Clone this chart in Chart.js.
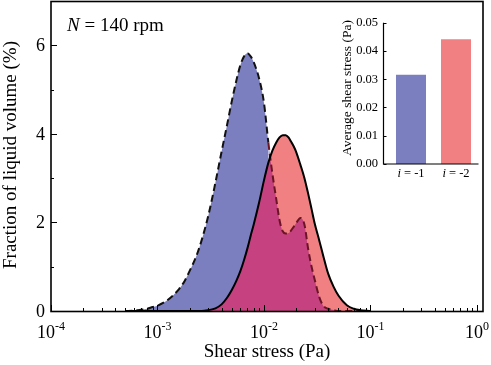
<!DOCTYPE html>
<html>
<head>
<meta charset="utf-8">
<script src="https://cdn.jsdelivr.net/npm/chart.js@4.4.0/dist/chart.umd.min.js"></script>
<style>
  body { margin: 0; background: #fff; }
  #wrap { position: relative; width: 491px; height: 365px; }
  #main { position: absolute; left: 0; top: 0; }
  #inset { position: absolute; left: 320px; top: 0; }
</style>
</head>
<body>
<div id="wrap">
  <canvas id="main" width="491" height="365"></canvas>
  <canvas id="inset" width="171" height="190"></canvas>
</div>
<script>
// shear stress (Pa) sampled along the curves
const shearStress = [0.0005, 0.0006, 0.0007, 0.0008, 0.0009, 0.001, 0.0012, 0.0014, 0.0016, 0.0018,
  0.002, 0.0023, 0.0026, 0.003, 0.0035, 0.004, 0.0045, 0.005, 0.0055, 0.006,
  0.0065, 0.007, 0.0075, 0.008, 0.009, 0.010, 0.011, 0.012, 0.013, 0.014,
  0.015, 0.016, 0.017, 0.018, 0.019, 0.020, 0.022, 0.024, 0.026, 0.028,
  0.030, 0.033, 0.036, 0.040, 0.045, 0.050, 0.060, 0.070, 0.080, 0.100];
// fraction of liquid volume (%), i = -1 (blue, dashed)
const fracI1 = [0.0, 0.01, 0.03, 0.05, 0.09, 0.12, 0.22, 0.35, 0.50, 0.68,
  0.90, 1.22, 1.60, 2.15, 2.90, 3.60, 4.20, 4.75, 5.20, 5.55,
  5.75, 5.82, 5.75, 5.62, 5.25, 4.70, 3.80, 3.10, 2.55, 2.05,
  1.80, 1.75, 1.76, 1.82, 1.90, 1.98, 2.10, 1.95, 1.40, 1.00,
  0.70, 0.32, 0.12, 0.05, 0.02, 0.0, 0.0, 0.0, 0.0, 0.0];
// fraction of liquid volume (%), i = -2 (red, solid)
const fracI2 = [0.0, 0.0, 0.0, 0.0, 0.0, 0.0, 0.0, 0.0, 0.0, 0.0,
  0.0, 0.0, 0.0, 0.02, 0.06, 0.15, 0.30, 0.48, 0.68, 0.90,
  1.15, 1.42, 1.70, 1.95, 2.45, 2.95, 3.35, 3.62, 3.80, 3.92,
  3.97, 3.97, 3.92, 3.82, 3.72, 3.60, 3.30, 3.00, 2.65, 2.30,
  1.97, 1.60, 1.25, 0.85, 0.55, 0.35, 0.13, 0.05, 0.02, 0.0];

const xDecades = [1e-4, 1e-3, 1e-2, 1e-1, 1];
const xExponents = ['-4', '-3', '-2', '-1', '0'];
const yMajor = [0, 2, 4, 6];
const yMinor = [1, 3, 5];

const insetCats = ['-1', '-2'];
const avgShear = [0.0316, 0.0441];
const insetTicks = [0, 0.01, 0.02, 0.03, 0.04, 0.05];

const BLUE = '#7b7fc0';
const SALMON = '#f08081';
const MAGENTA = '#c6417f';
const SERIF = '"Liberation Serif", "Times New Roman", serif';

const pts = arr => shearStress.map((x, i) => ({x, y: arr[i]}));

const mainDecor = {
  id: 'mainDecor',
  afterDraw(chart) {
    const {ctx, chartArea: a, scales: {x, y}} = chart;
    ctx.save();
    ctx.strokeStyle = '#000';
    ctx.fillStyle = '#000';
    ctx.lineWidth = 1;
    ctx.beginPath();
    // x ticks, inward
    xDecades.forEach((d, i) => {
      const px = Math.round(x.getPixelForValue(d)) + 0.5;
      ctx.moveTo(px, a.bottom); ctx.lineTo(px, a.bottom - 6);
      if (i < xDecades.length - 1) {
        for (let m = 2; m <= 9; m++) {
          const q = Math.round(x.getPixelForValue(m * d)) + 0.5;
          ctx.moveTo(q, a.bottom); ctx.lineTo(q, a.bottom - 3);
        }
      }
    });
    yMajor.forEach(v => {
      const py = Math.round(y.getPixelForValue(v)) + 0.5;
      ctx.moveTo(a.left, py); ctx.lineTo(a.left + 6, py);
    });
    yMinor.forEach(v => {
      const py = Math.round(y.getPixelForValue(v)) + 0.5;
      ctx.moveTo(a.left, py); ctx.lineTo(a.left + 3, py);
    });
    ctx.stroke();

    ctx.lineWidth = 1.6;
    ctx.strokeRect(a.left, a.top + 0.5, a.right - a.left, a.bottom - a.top);

    // y labels
    ctx.font = '18px ' + SERIF;
    ctx.textAlign = 'right';
    ctx.textBaseline = 'middle';
    yMajor.forEach(v => ctx.fillText(String(v), a.left - 6, y.getPixelForValue(v) + 1));

    // x labels 10^n
    ctx.textAlign = 'left';
    ctx.textBaseline = 'alphabetic';
    xDecades.forEach((d, i) => {
      const px = x.getPixelForValue(d);
      ctx.font = '18px ' + SERIF;
      const wb = ctx.measureText('10').width;
      ctx.font = '12px ' + SERIF;
      const we = ctx.measureText(xExponents[i]).width;
      const left = px - (wb + we) / 2;
      ctx.font = '18px ' + SERIF;
      ctx.fillText('10', left, 338);
      ctx.font = '12px ' + SERIF;
      ctx.fillText(xExponents[i], left + wb, 330);
    });

    // axis titles
    ctx.font = '19px ' + SERIF;
    ctx.textAlign = 'center';
    ctx.fillText('Shear stress (Pa)', (a.left + a.right) / 2, 357);
    ctx.save();
    ctx.translate(16, 155);
    ctx.rotate(-Math.PI / 2);
    ctx.fillText('Fraction of liquid volume (%)', 0, 0);
    ctx.restore();

    // N = 140 rpm
    ctx.textAlign = 'left';
    ctx.font = 'italic 19px ' + SERIF;
    ctx.fillText('N', 67, 31);
    const wn = ctx.measureText('N').width;
    ctx.font = '19px ' + SERIF;
    ctx.fillText(' = 140 rpm', 67 + wn, 31);
    ctx.restore();
  }
};

new Chart(document.getElementById('main'), {
  type: 'line',
  data: {
    datasets: [
      {
        label: 'i = -1',
        data: pts(fracI1),
        order: 1,
        borderColor: '#111',
        borderWidth: 2,
        borderDash: [7, 4],
        segment: {
          borderColor: c => (fracI2[c.p0DataIndex] + fracI2[c.p1DataIndex] >
            fracI1[c.p0DataIndex] + fracI1[c.p1DataIndex]) ? '#6a1424' : '#111'
        },
        fill: {target: 1, above: BLUE, below: SALMON},
        pointRadius: 0,
        cubicInterpolationMode: 'monotone'
      },
      {
        label: 'overlap',
        data: pts(fracI2),
        order: 2,
        borderWidth: 0,
        borderColor: 'rgba(0,0,0,0)',
        backgroundColor: MAGENTA,
        fill: 'origin',
        pointRadius: 0,
        cubicInterpolationMode: 'monotone'
      },
      {
        label: 'i = -2',
        data: pts(fracI2),
        order: 0,
        borderColor: '#000',
        borderWidth: 2,
        fill: false,
        pointRadius: 0,
        cubicInterpolationMode: 'monotone'
      }
    ]
  },
  options: {
    responsive: false,
    animation: false,
    layout: {padding: {left: 51, top: 1, right: 8, bottom: 54}},
    plugins: {legend: {display: false}, tooltip: {enabled: false}},
    scales: {
      x: {type: 'logarithmic', min: 1e-4, max: 1.14, display: false},
      y: {type: 'linear', min: 0, max: 7, display: false}
    }
  },
  plugins: [mainDecor]
});

const insetDecor = {
  id: 'insetDecor',
  afterDraw(chart) {
    const {ctx, chartArea: a, scales: {x, y}} = chart;
    const ax = 63.5;
    ctx.save();
    ctx.strokeStyle = '#000';
    ctx.fillStyle = '#000';
    ctx.lineWidth = 1.2;
    ctx.beginPath();
    ctx.moveTo(ax, y.getPixelForValue(0.05));
    ctx.lineTo(ax, a.bottom);
    ctx.lineTo(a.right, a.bottom);
    insetTicks.forEach(v => {
      const py = Math.round(y.getPixelForValue(v)) + 0.5;
      ctx.moveTo(ax, py); ctx.lineTo(ax + 3, py);
    });
    ctx.stroke();

    ctx.font = '12.5px ' + SERIF;
    ctx.textAlign = 'right';
    ctx.textBaseline = 'middle';
    insetTicks.forEach(v => ctx.fillText(v.toFixed(2), 58, y.getPixelForValue(v)));

    ctx.textAlign = 'left';
    ctx.textBaseline = 'alphabetic';
    insetCats.forEach((c, i) => {
      const px = x.getPixelForValue(i);
      ctx.font = 'italic 12.5px ' + SERIF;
      const wi = ctx.measureText('i').width;
      ctx.font = '12.5px ' + SERIF;
      const wr = ctx.measureText(' = ' + c).width;
      const left = px - (wi + wr) / 2;
      ctx.font = 'italic 12.5px ' + SERIF;
      ctx.fillText('i', left, 177);
      ctx.font = '12.5px ' + SERIF;
      ctx.fillText(' = ' + c, left + wi, 177);
    });

    ctx.font = '13.5px ' + SERIF;
    ctx.textAlign = 'center';
    ctx.save();
    ctx.translate(31, 88);
    ctx.rotate(-Math.PI / 2);
    ctx.fillText('Average shear stress (Pa)', 0, 0);
    ctx.restore();
    ctx.restore();
  }
};

new Chart(document.getElementById('inset'), {
  type: 'bar',
  data: {
    labels: insetCats,
    datasets: [{
      data: avgShear,
      backgroundColor: [BLUE, SALMON],
      borderWidth: 0,
      barPercentage: 0.667,
      categoryPercentage: 1
    }]
  },
  options: {
    responsive: false,
    animation: false,
    layout: {padding: {left: 68.5, top: 22.7, right: 12.5, bottom: 26}},
    plugins: {legend: {display: false}, tooltip: {enabled: false}},
    scales: {
      x: {display: false},
      y: {min: 0, max: 0.05, display: false}
    }
  },
  plugins: [insetDecor]
});
</script>
</body>
</html>
